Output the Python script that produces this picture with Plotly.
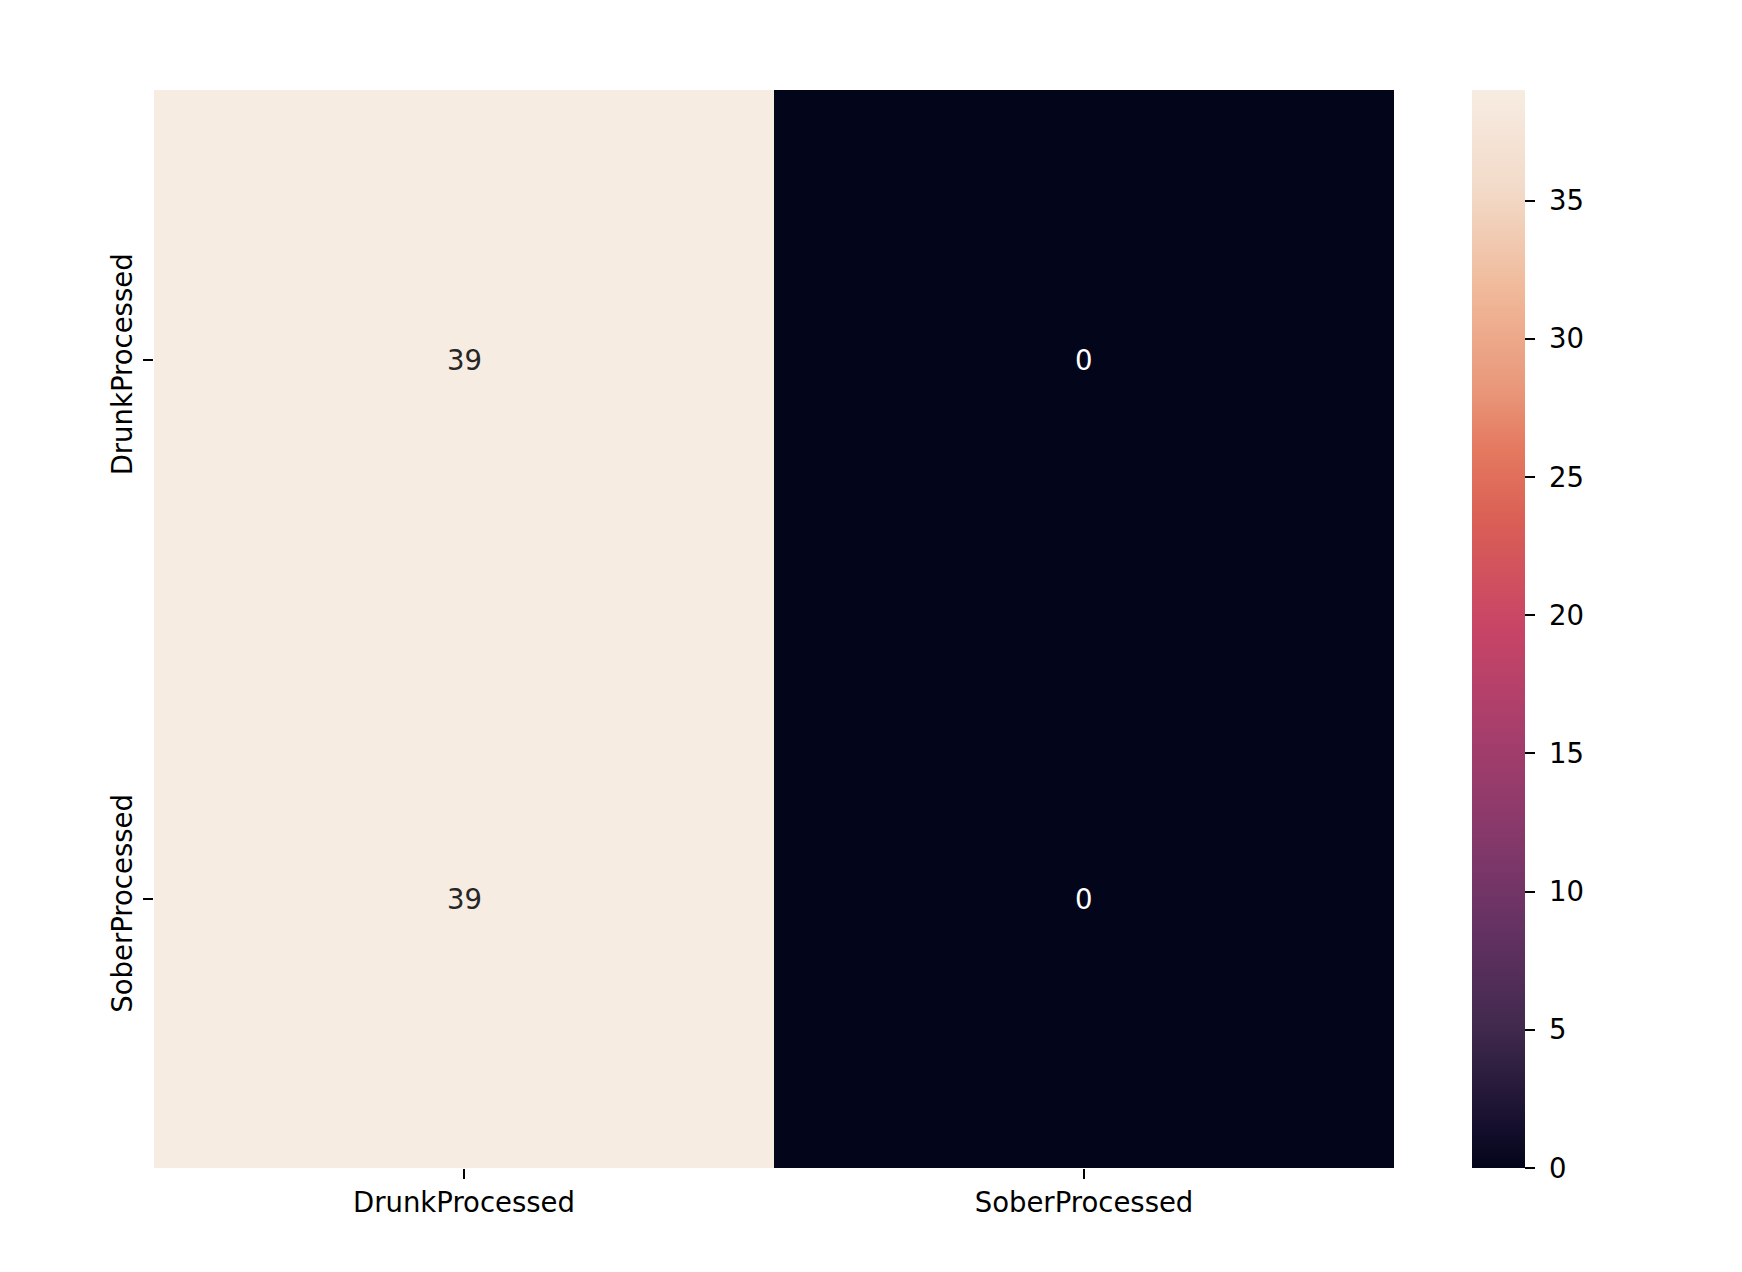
import plotly.graph_objects as go

# Data
x_labels = ["DrunkProcessed", "SoberProcessed"]
y_labels = ["DrunkProcessed", "SoberProcessed"]
row_drunk = [39, 0]
row_sober = [39, 0]
z = [row_drunk, row_sober]
zmin, zmax = 0, 39
cbar_ticks = [0, 5, 10, 15, 20, 25, 30, 35]

# rocket-like colormap as seen in the reference
cmap = [
    [0.0, "#03051a"],
    [0.035, "#130e2b"],
    [0.128, "#40294d"],
    [0.221, "#643263"],
    [0.314, "#88396b"],
    [0.406, "#a73e6b"],
    [0.499, "#c84467"],
    [0.601, "#da5f55"],
    [0.666, "#e4795f"],
    [0.722, "#e9977a"],
    [0.814, "#f0b999"],
    [0.907, "#f2dac8"],
    [1.0, "#f7ece2"],
]

FONT = "DejaVu Sans"
FS = 27.5

fig = go.Figure(go.Heatmap(
    z=z, x=x_labels, y=y_labels,
    colorscale=cmap, zmin=zmin, zmax=zmax,
    showscale=True,
    colorbar=dict(
        x=1.0629, xanchor="left", xref="paper",
        y=0, yanchor="bottom", len=1, lenmode="fraction",
        thickness=53, thicknessmode="pixels",
        outlinewidth=0,
        tickvals=cbar_ticks, ticktext=["\u2004" + str(t) for t in cbar_ticks],
        ticks="outside", ticklen=10, tickwidth=1.5,
        tickcolor="black",
        tickfont=dict(family=FONT, size=FS, color="black"),
        xpad=0, ypad=0,
    ),
    hoverinfo="z",
))

for yi, yl in enumerate(y_labels):
    for xi, xl in enumerate(x_labels):
        v = z[yi][xi]
        col = "#262626" if v > (zmin + zmax) / 2 else "white"
        fig.add_annotation(x=xl, y=yl, text=str(v), showarrow=False,
                           font=dict(family=FONT, size=FS, color=col))

fig.update_layout(
    width=1742, height=1272,
    margin=dict(l=146, r=356, t=82, b=112),
    paper_bgcolor="white", plot_bgcolor="white",
    font=dict(family=FONT, size=FS, color="black"),
    xaxis=dict(showgrid=False, zeroline=False, showline=False,
               ticks="outside", ticklen=10, tickwidth=1.5, tickcolor="black",
               tickfont=dict(family=FONT, size=FS, color="black")),
    yaxis=dict(showgrid=False, zeroline=False, showline=False,
               autorange="reversed",
               ticks="outside", ticklen=10, tickwidth=1.5, tickcolor="black",
               tickangle=-90, ticklabelshift=-9,
               tickfont=dict(family=FONT, size=FS, color="black")),
)

fig.write_html("out.html")
